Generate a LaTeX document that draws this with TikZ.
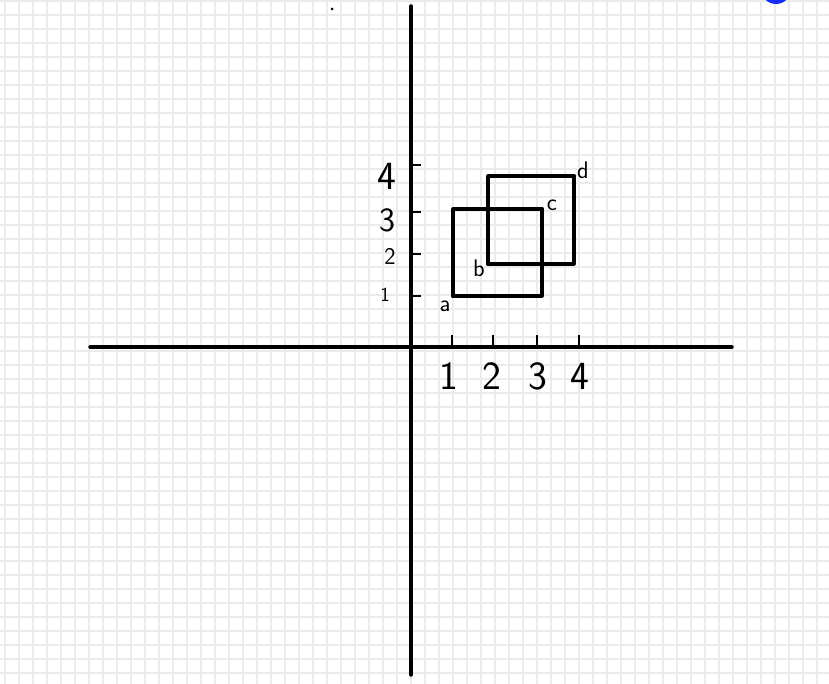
\documentclass[tikz,border=0pt]{standalone}
\usetikzlibrary{positioning}
\definecolor{penblue}{RGB}{20,45,245}
\begin{document}
\begin{tikzpicture}[
    x=1pt,
    y=-1pt,
    gridline/.style={draw=black!8, line width=1.3pt},
    axisline/.style={line width=3.4pt, line cap=round},
    sqline/.style={line width=3.2pt, line join=round},
    tickline/.style={line width=2.4pt},
    cornerdot/.style={circle, fill=black, inner sep=0pt, minimum size=4pt},
    ticklabel/.style={font=\fontsize{40}{40}\selectfont\sffamily, inner sep=0pt},
    cornerlabel/.style={font=\fontsize{24}{24}\selectfont\sffamily, inner sep=0pt}
  ]
  \useasboundingbox (0,0) rectangle (829,684);
  \clip (0,0) rectangle (829,684);
  \fill[white] (0,0) rectangle (829,684);

  % paper grid
  \foreach \gx in {0,...,59} {
    \draw[gridline] ({5+14*\gx},0) -- ({5+14*\gx},684);
  }
  \foreach \gy in {0,...,49} {
    \draw[gridline] (0,{1+14*\gy}) -- (829,{1+14*\gy});
  }

  % axes
  \coordinate (ytop) at (411,6);
  \coordinate (ybot) at (411,675);
  \coordinate (xleft) at (90,347);
  \coordinate (xright) at (732,347);
  \draw[axisline] (ytop) -- (ybot);
  \draw[axisline] (xleft) -- (xright);

  % ticks on the x axis
  \foreach \tx/\lx/\val in {452/449/1, 493/492/2, 537/538/3, 579/580/4} {
    \draw[tickline] (\tx,335) -- (\tx,347);
    \node[ticklabel] (xl\val) at (\lx,376) {\val};
  }
  % ticks on the y axis
  \foreach \ty/\lx/\ly/\sz/\val in {296/385/295/20/1, 254/390/256/24/2, 212/387/220/34/3, 165/387/176/40/4} {
    \draw[tickline] (411,\ty) -- (421,\ty);
    \node[ticklabel, font=\fontsize{\sz}{\sz}\selectfont\sffamily] (yl\val) at (\lx,\ly) {\val};
  }

  % corners
  \node[cornerdot] (pa) at (453,296) {};
  \node[cornerdot] (pb) at (488,264) {};
  \node[cornerdot] (pc) at (542,209) {};
  \node[cornerdot] (pd) at (574,176) {};

  \node[cornerlabel] (la) at (445,306) {a};
  \node[cornerlabel] (lb) at (479,268) {b};
  \node[cornerlabel] (lc) at (552,205) {c};
  \node[cornerlabel] (ld) at (583,170) {d};

  % squares
  \draw[sqline] (pa.center) rectangle (pc.center);
  \draw[sqline] (pb.center) rectangle (pd.center);

  % stray marks
  \node[cornerdot, minimum size=3pt] (speck) at (332,9) {};
  \fill[penblue] (776,-11) circle (15);
\end{tikzpicture}
\end{document}
